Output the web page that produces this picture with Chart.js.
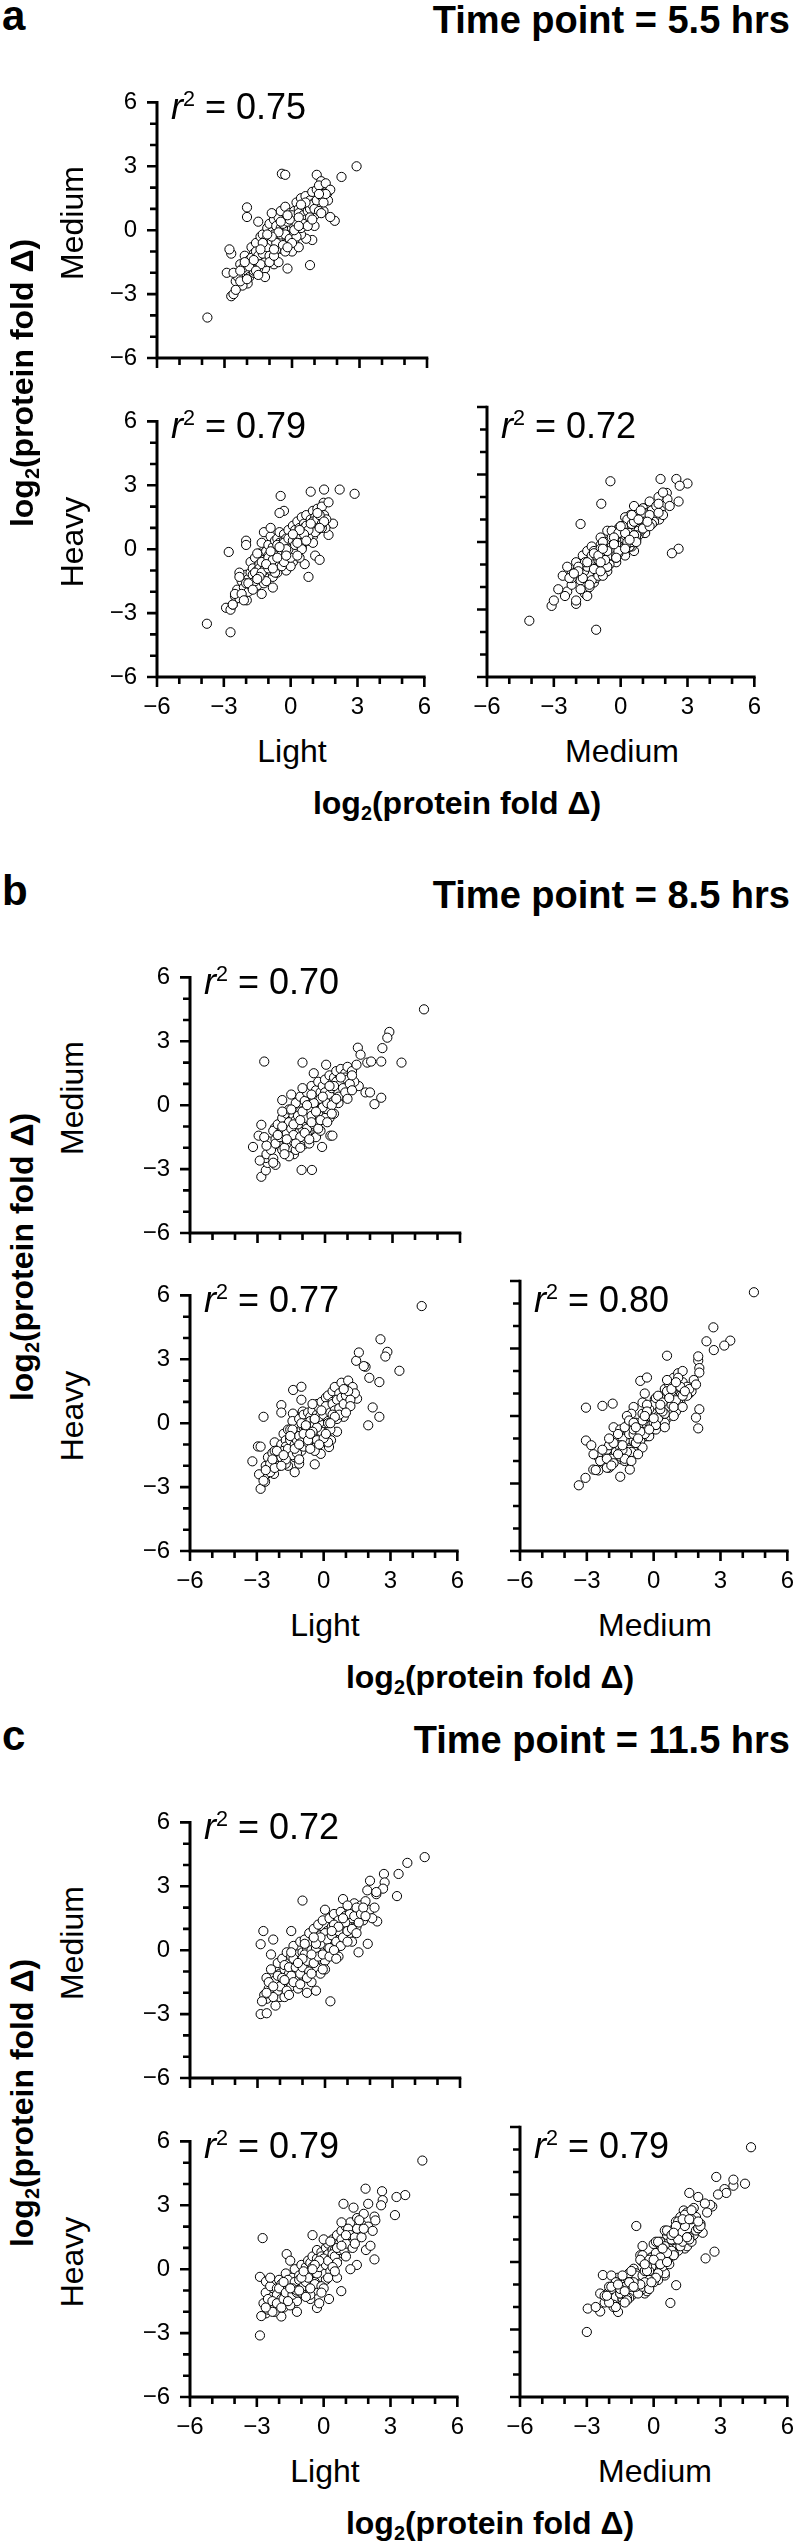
<!DOCTYPE html>
<html>
<head>
<meta charset="utf-8">
<script src="https://cdn.jsdelivr.net/npm/chart.js@4.4.1/dist/chart.umd.min.js"></script>
<style>
  body { margin: 0; background: #fff; }
  #fig { position: relative; width: 800px; height: 2545px; overflow: hidden; font-family: "Liberation Sans", Arial, sans-serif; color: #000; }
  .lbl { position: absolute; white-space: nowrap; }
  .lbl sup { font-size: 0.6em; line-height: 0; vertical-align: 0.62em; }
  .lbl sub { font-size: 0.62em; line-height: 0; vertical-align: -0.32em; }
  canvas { position: absolute; left: 0; top: 0; }
</style>
</head>
<body>
<div id="fig"></div>
<script>
// log2 fold change per protein, one entry per protein (same order in each array)
// --- 5.5 hrs ---
const light55 = [-3.76,-2.7,2.87,2.2,-0.45,-0.3,1.1,1.3,1.48,1.5,0.9,1.9,1.7,0.8,-2.9,-2.7,-2.6,-2.5,-1.97,-1.3,-0.8,-2.78,-2.0,-2.0,-0.2,0.63,-1.2,-0.5,1.56,
  -2.4,-2.3,-2.2,-2.1,-2.0,-1.9,-1.9,-1.8,-1.8,-1.7, -1.7,-1.6,-1.6,-1.5,-1.5,-1.4,-1.4,-1.3,-1.3,-1.2,
  -1.2,-1.1,-1.1,-1.0,-1.0,-1.0,-0.9,-0.9,-0.8,-0.8, -0.8,-0.7,-0.7,-0.6,-0.6,-0.6,-0.5,-0.5,-0.5,-0.4,
  -0.4,-0.4,-0.3,-0.3,-0.3,-0.2,-0.2,-0.2,-0.1,-0.1, -0.1,0.0,0.0,0.0,0.1,0.1,0.1,0.2,0.2,0.2,
  0.3,0.3,0.3,0.4,0.4,0.4,0.5,0.5,0.5,0.6, 0.6,0.6,0.7,0.7,0.8,0.8,0.9,0.9,1.0,1.0,
  1.1,1.1,1.2,1.2,1.3,1.4,1.4,1.5,1.6,1.7, -2.6,-2.5,-2.3,-1.2,0.0,-0.6,0.3,1.0,-1.5,-0.9,
  -2.2,-2.0,-1.8,-1.7,-1.6,-1.5,-1.4,-1.3,-1.2,-1.1, -1.0,-0.9,-0.8,-0.7,-0.6,-0.5,-0.4,-0.3,-0.2,-0.1,
  0.0,0.1,0.2,0.3,0.4,0.5,0.6,0.7,0.8,0.9, 1.0,1.1,1.2,1.3,1.4,1.5,-1.9,-1.6,-1.3,-1.0,
  -0.7,-0.4,-0.1,0.2,0.5,0.8,-0.8,-0.3,0.3,0.6, -2.3,-1.4,-0.6,0.4,1.2,-1.7,-0.9,0.0,0.7,-0.2,
  -1.1,-0.5,0.1,0.9,-1.5,-2.1,0.3,1.3,-0.8,-0.2];
const medium55 = [-4.1,-1.1,3.0,2.5,2.65,2.6,2.6,2.3,2.07,1.79,-0.46,0.44,0.62,-1.64,-2.0,-3.1,-3.0,-2.4,-2.5,-1.5,-1.6,-0.9,1.07,0.62,-1.8,-0.4,-1.8,-0.87,1.73,
  -2.2,-1.6,-2.6,-1.2,-1.9,-1.4,-2.2,-0.8,-1.7,-1.1, -2.0,-0.6,-1.5,-1.0,-1.8,-0.3,-1.3,-0.9,-0.2,-1.5,
  -0.5,0.1,-1.1,-0.4,-0.8,0.3,-1.3,-0.1,-0.6,0.5, -1.0,-0.3,0.2,-0.7,0.6,-0.2,0.1,-0.5,0.9,-0.1,
  0.4,-0.9,0.2,-0.4,1.1,0.0,0.6,-0.6,0.3,-0.2, 0.8,0.1,0.5,-0.3,0.9,0.2,-0.5,0.6,1.3,-0.1,
  0.4,1.0,0.0,0.7,1.5,-0.2,0.5,1.1,0.2,0.9, 1.6,0.3,1.2,0.6,1.4,0.4,1.8,0.9,1.3,0.7,
  1.9,1.0,1.5,2.1,1.2,1.7,0.9,2.2,1.4,1.9, -2.0,-2.8,-2.4,-2.2,-1.0,-1.5,-0.8,0.2,0.4,0.8,
  -1.8,-2.3,-1.3,-1.9,-1.0,-1.2,-1.6,-1.1,-0.7,-0.8, -1.2,-0.5,-0.2,-0.9,-0.4,-0.2,0.3,-0.2,0.4,-0.4,
  0.7,-0.1,0.3,0.8,0.1,0.7,0.5,0.9,1.0,1.2, 1.0,1.4,0.9,1.6,1.3,1.7,-1.7,-1.9,-0.6,-1.5,
  -0.6,-0.7,0.5,-0.3,0.3,0.6,-1.2,-1.0,0.6,1.3, -1.9,-0.9,-0.1,1.2,1.7,-1.4,-0.3,-0.6,0.2,0.7,
  -0.2,0.4,0.0,0.5,-2.1,-1.5,0.2,0.8,-0.9,-0.8];
const heavy55 = [-3.5,-3.9,2.6,2.8,2.5,1.8,-0.3,-0.5,2.18,2.8,2.7,1.2,0.67,-1.3,-2.75,-2.84,-2.6,-2.2,-2.4,-2.1,-1.8,-0.13,0.4,0.2,-1.0,-0.7,0.8,1.7,1.0,
  -1.9,-2.3,-1.5,-1.8,-1.2,-2.0,-1.4,-1.1,-0.6,-1.6, -0.9,-1.3,-0.4,-1.0,-1.7,-0.7,-0.2,-1.4,0.3,-0.9,
  -0.5,-0.1,-1.2,0.2,-0.8,-0.3,-0.6,0.6,-0.2,0.1, -1.3,0.4,-0.6,0.0,0.5,-0.9,0.3,-0.3,0.8,-0.5,
  0.0,0.2,0.7,-0.2,0.4,0.1,-0.4,0.5,0.9,-0.1, 0.3,0.4,-0.2,0.0,0.6,1.1,-0.6,0.2,0.9,0.5,
  -0.1,1.3,0.7,0.3,1.0,-0.4,0.8,1.5,0.1,0.5, 1.2,1.0,0.7,1.6,1.1,0.4,1.4,0.8,1.8,0.6,
  1.2,1.5,0.9,1.9,1.3,2.0,1.0,1.6,1.4,2.2, -2.6,-2.1,-1.1,-1.6,-0.8,-1.1,0.0,0.3,-0.2,1.0,
  -2.1,-1.6,-1.7,-1.2,-1.5,-1.2,-0.9,-0.6,-1.0,-1.5, -0.4,-1.0,-0.6,-0.3,0.2,-0.7,-0.2,0.3,-0.2,0.5,
  0.1,0.4,-0.1,0.5,0.7,0.3,0.8,1.1,0.6,1.0, 1.3,0.8,1.4,1.6,1.2,1.3,-1.6,-1.1,-1.1,-0.9,
  -1.1,-0.8,0.0,0.2,0.0,0.9,-0.5,-0.6,0.3,0.7, -1.3,-1.3,-0.4,0.9,1.7,-1.9,-0.1,-0.4,0.4,0.0,
  -0.7,0.1,0.7,1.2,-1.4,-2.4,-0.3,1.0,-0.9,-0.3];
const r2_55 = [0.75, 0.79, 0.72];   // M vs L, H vs L, H vs M

// --- 8.5 hrs ---
const light85 = [4.4,-2.7,3.4,2.86,2.77,2.55,1.46,1.58,1.88,2.05,2.5,-1.0,0.05,1.5,1.8,2.2,2.5,2.0,-1.9,-1.37,-1.0,-3.2,-2.95,-1.04,-0.58,-1.38,-0.94,-2.83,-2.63,-2.55,-2.63,-2.23,-0.4,0.24,-0.13,0.33,-2.83,
  -2.6,-2.5,-2.4,-2.3,-2.3,-2.2,-2.1,-2.0,-2.0,-1.9, -1.9,-1.8,-1.8,-1.7,-1.7,-1.6,-1.6,-1.5,-1.5,-1.4,
  -1.4,-1.3,-1.3,-1.2,-1.2,-1.1,-1.1,-1.0,-1.0,-0.9, -0.9,-0.8,-0.8,-0.8,-0.7,-0.7,-0.6,-0.6,-0.6,-0.5,
  -0.5,-0.4,-0.4,-0.3,-0.3,-0.3,-0.2,-0.2,-0.1,-0.1, 0.0,0.0,0.1,0.1,0.2,0.2,0.3,0.3,0.4,0.4,
  0.5,0.5,0.6,0.7,0.7,0.8,0.9,1.0,1.0,1.1, 1.2,1.3,1.4,-2.9,-2.7,-1.6,-1.1,-0.4,0.2,0.6,
  -1.0,-1.9,-0.2,0.9,-1.5,-0.7,-2.2,0.4,-1.3,-0.5,
  -2.4,-2.2,-2.0,-1.9,-1.8,-1.7,-1.6,-1.5,-1.4,-1.3, -1.2,-1.1,-1.0,-0.9,-0.8,-0.7,-0.6,-0.5,-0.4,-0.3,
  -0.2,-0.1,0.0,0.1,0.2,0.3,0.4,0.5,0.6,0.7, 0.8,0.9,1.0,1.1,1.2,-2.1,-1.7,-1.2,-0.9,-0.6,
  -0.3,0.0,0.3,0.6,-1.4,-1.0,-0.5,-0.1,0.4,0.9, -2.6,-1.8,-1.1,-0.7,-0.2,0.2,0.7,1.2,-1.5,-0.8,
  -2.3,-1.3,-0.4,0.1,0.5,1.0,-1.9,-0.6,0.3,-1.1];
const medium85 = [4.5,2.05,2.0,3.44,3.17,2.68,2.7,2.37,2.0,2.05,2.05,2.0,1.9,0.9,0.6,0.05,0.35,0.6,0.24,-0.6,-0.3,-1.96,-1.43,-3.04,-3.04,-2.3,-1.84,-3.36,-3.06,-2.71,-2.48,-1.07,-1.44,-1.43,-1.96,-1.43,-0.92,
  -2.3,-1.7,-2.0,-1.2,-2.5,-1.6,-0.9,-1.9,-1.3,-0.6, -2.1,-1.0,-1.5,-0.4,-1.8,-1.1,-0.2,-1.4,-0.7,-1.7,
  -0.5,-1.0,0.1,-0.8,-1.3,-0.3,0.4,-1.1,-0.6,0.2, -0.9,-0.4,0.6,-1.4,0.0,-0.7,0.9,-0.2,-1.0,0.3,
  -0.5,0.7,-0.1,0.4,-0.8,1.1,0.1,0.6,-0.3,0.9, 0.2,1.2,0.5,-0.2,0.8,1.4,0.3,1.0,1.3,0.6,
  1.6,0.9,1.2,0.7,1.7,1.1,1.5,0.9,1.8,1.3, 1.6,1.1,1.9,-2.6,-1.5,-2.4,-1.9,-1.5,-0.6,0.1,
  0.8,-0.3,-1.2,0.4,0.5,-1.8,-2.8,-0.4,-2.1,1.5,
  -2.1,-1.8,-1.5,-1.2,-2.0,-1.3,-0.8,-1.1,-1.4,-0.7, -0.9,-1.5,-0.4,-0.6,-1.1,-0.2,-0.5,-0.9,0.2,-0.4,
  0.3,-0.1,0.6,0.1,0.5,0.8,0.2,1.1,0.6,1.0, 0.8,1.3,1.2,1.0,1.4,-1.4,-1.6,-0.5,-1.3,-0.8,
  -1.1,-0.6,0.0,0.4,-0.9,-0.3,0.1,0.4,0.9,0.6, -1.9,-2.3,-0.7,-1.6,-0.7,0.9,1.3,0.7,-0.2,0.0,
  -2.7,-1.8,-0.3,-0.8,0.3,0.3,-1.0,0.5,-0.4,-2.0];
const heavy85 = [5.5,0.3,2.46,3.35,3.13,3.94,2.93,3.32,2.65,2.13,1.93,-0.55,-0.07,1.15,2.68,0.74,0.3,-0.1,0.85,1.56,1.71,-1.79,-1.09,0.37,-1.09,0.45,0.55,-3.08,-2.75,-2.38,-2.42,-2.38,-1.93,-1.12,-1.44,-0.8,-1.1,
  -2.0,-1.6,-2.3,-1.4,-1.8,-0.9,-1.7,-1.2,-2.0,-1.0, -1.5,-0.5,-1.8,-0.8,-1.1,-1.5,-0.3,-0.7,-1.2,-1.0,
  0.1,-1.6,-0.4,-0.6,-1.1,-0.9,0.2,-0.3,-1.3,-0.2, 0.4,-0.7,0.0,-1.0,0.5,-0.4,0.3,-0.8,0.1,-0.1,
  0.6,0.2,-0.5,0.9,-0.3,0.4,-0.6,0.7,0.2,1.0, 0.0,0.6,1.2,0.3,0.5,1.3,0.8,0.2,1.5,0.6,
  1.0,1.7,0.9,1.4,1.1,1.9,1.3,0.8,1.6,2.0, 1.2,1.7,1.4,-2.4,-2.7,-2.0,-1.9,-1.3,-0.9,-0.4,
  1.1,0.5,0.0,0.3,-0.3,-0.5,-1.3,1.0,-2.3,0.9,
  -1.9,-2.1,-1.4,-1.6,-1.3,-1.9,-1.2,-0.8,-1.5,-1.0, -0.8,-0.6,-0.9,-1.1,-0.3,-0.9,-0.2,-0.6,-0.1,-0.8,
  0.3,-0.4,0.4,0.8,0.1,0.5,0.9,0.6,1.1,0.7, 1.2,0.9,1.3,1.5,1.1,-1.3,-1.7,-1.4,-0.5,-1.2,
  -0.2,-0.7,-0.3,0.2,-0.3,0.0,-0.4,0.6,0.4,1.6, -2.2,-1.5,-1.7,-0.8,-1.0,0.0,0.4,0.8,-0.6,-0.1,
  -1.7,-1.2,0.2,-0.5,0.3,0.5,-2.0,-0.5,0.0,-1.0];
const r2_85 = [0.70, 0.77, 0.80];

// --- 11.5 hrs ---
const light115 = [4.43,3.66,3.27,2.62,2.65,2.0,1.88,2.28,2.58,3.2,2.32,-1.0,2.28,-2.74,-2.86,-2.3,-2.86,-2.59,-2.59,-2.0,-1.9,0.24,1.49,1.9,-0.5,0.89,1.34,0.79,-0.3,-1.66,
  -2.7,-2.6,-2.5,-2.4,-2.3,-2.2,-2.1,-2.1,-2.0,-1.9, -1.9,-1.8,-1.7,-1.7,-1.6,-1.6,-1.5,-1.5,-1.4,-1.4,
  -1.3,-1.3,-1.2,-1.2,-1.1,-1.1,-1.0,-1.0,-0.9,-0.9, -0.8,-0.8,-0.7,-0.7,-0.6,-0.6,-0.5,-0.5,-0.4,-0.4,
  -0.3,-0.3,-0.2,-0.2,-0.1,-0.1,0.0,0.0,0.1,0.1, 0.2,0.2,0.3,0.3,0.4,0.4,0.5,0.5,0.6,0.7,
  0.7,0.8,0.9,0.9,1.0,1.1,1.1,1.2,1.3,1.4, 1.5,1.6,1.7,1.8,2.0,-2.8,-2.2,-1.8,-1.2,-0.6,
  -0.2,0.6,1.2,-1.5,-0.8,0.0,2.1,-2.4,0.8,-0.4,
  -2.5,-2.3,-2.1,-2.0,-1.8,-1.7,-1.6,-1.5,-1.4,-1.3, -1.2,-1.1,-1.0,-0.9,-0.8,-0.7,-0.6,-0.5,-0.4,-0.3,
  -0.2,-0.1,0.0,0.1,0.2,0.3,0.4,0.5,0.6,0.7, 0.8,0.9,1.0,1.1,1.2,1.3,1.4,1.5,1.6,1.7,
  -2.3,-1.9,-1.4,-1.0,-0.6,-0.2,0.2,0.6,1.0,1.4, -1.8,-1.2,-0.8,-0.4,0.0,0.4,0.8,-2.6,-1.6,-0.6,
  0.3,1.0,-1.1,-0.1,-0.9,1.8,-1.5,-0.5,0.5,2.2];
const medium115 = [4.37,4.1,3.58,3.58,3.18,3.26,2.81,2.63,2.89,2.54,1.35,2.33,2.73,0.9,0.28,0.5,-3.0,-2.96,-2.28,-2.2,-1.6,-2.4,-0.1,0.3,-0.78,1.6,2.0,1.01,0.75,-0.5,
  -2.1,-1.3,-1.8,-0.9,-2.0,-1.4,-0.6,-1.9,-1.1,-0.4, -1.6,-0.9,-1.4,-0.1,-1.1,-0.6,-1.7,-0.3,-0.9,0.2,
  -1.3,-0.5,-0.2,-1.0,0.4,-0.7,-0.1,-1.2,0.5,-0.5, 0.1,-0.9,0.8,-0.3,0.3,-0.6,1.0,-0.1,0.5,-0.8,
  0.2,1.2,-0.4,0.7,0.0,1.4,0.4,-0.5,0.9,0.2, 1.5,0.6,-0.2,1.1,0.5,1.7,0.9,0.1,1.4,0.7,
  1.8,1.0,0.5,1.6,1.2,2.0,0.8,1.5,2.2,1.1, 1.8,2.1,1.4,2.3,1.9,-2.4,-2.6,-2.2,-1.8,-1.5,
  -1.1,-0.3,0.4,0.9,-2.0,1.9,1.5,-0.2,2.4,-1.9,
  -1.5,-2.2,-1.2,-1.7,-0.7,-1.9,-0.8,-1.2,-1.5,-0.8, -0.5,-1.1,-0.8,-0.2,-0.5,-1.0,0.0,-0.6,0.1,-0.3,
  0.3,-0.2,0.8,0.5,0.1,0.7,1.2,0.4,0.9,0.2, 0.6,1.3,0.9,1.7,1.0,1.6,2.0,1.3,1.7,2.0,
  -1.7,-1.3,-0.4,-0.4,-0.2,0.6,-0.3,1.1,0.4,0.8, -1.4,-0.6,-1.3,0.3,-0.9,0.0,1.5,-2.0,-2.1,-1.1,
  0.9,2.1,-1.6,-0.9,0.3,1.6,-0.1,0.6,-0.4,2.0];
const heavy115 = [5.1,3.48,3.39,3.66,3.24,3.07,3.78,2.47,3.0,2.54,2.29,0.16,0.46,1.46,-0.36,-0.6,-3.11,-2.07,-0.58,-1.52,-2.22,-1.4,0.2,0.9,1.6,3.07,2.89,-1.03,-1.82,0.71,
  -1.6,-1.1,-1.9,-0.8,-1.3,-1.7,-0.9,-1.2,-0.5,-1.4, -0.7,-1.0,-1.6,-0.2,-1.2,-0.6,-0.9,-1.3,-0.4,-0.8,
  -1.1,0.0,-0.6,-1.5,-0.3,-0.9,0.2,-0.7,-0.5,-1.2, 0.1,-0.3,0.4,-0.8,-0.1,0.3,0.6,-0.6,0.0,-1.0,
  0.5,0.9,-0.4,0.2,0.8,0.6,-0.2,0.3,1.0,-0.5, 0.7,1.2,0.1,0.5,1.4,0.9,0.3,0.9,1.6,0.6,
  1.2,1.8,0.7,1.1,2.0,1.5,1.0,2.2,1.3,1.8, 2.4,1.7,2.1,2.6,2.0,-2.2,-2.0,-1.8,-2.0,-1.4,
  -1.6,-0.4,0.0,0.4,-1.1,1.4,1.1,-0.4,2.2,-0.6,
  -1.4,-1.5,-1.6,-0.9,-1.4,-1.1,-0.5,-1.7,-1.2,-0.6, -1.1,-0.5,-1.1,-0.8,-0.6,-0.4,-0.9,0.1,-0.7,-0.2,
  0.1,-0.8,0.5,0.2,0.4,-0.1,0.7,0.6,0.3,0.9, 1.4,0.9,1.2,1.9,1.6,1.0,1.5,1.9,2.3,1.5,
  -2.0,-1.8,-0.9,-0.4,-1.2,0.4,-0.4,1.0,0.6,1.2, -0.6,-1.0,-1.3,0.2,-0.9,0.1,1.1,-1.8,-1.5,-0.9,
  1.3,1.6,-1.0,-1.1,-0.1,1.9,-0.9,0.0,-0.1,1.8];
const r2_115 = [0.72, 0.79, 0.79];

const timeTitles = ['Time point = 5.5 hrs', 'Time point = 8.5 hrs', 'Time point = 11.5 hrs'];
const panelLetters = ['a', 'b', 'c'];
const axisMin = -6, axisMax = 6;

// ---- layout (pixels) ----
const panels = [
  { L: light55,  M: medium55,  H: heavy55,  r2: r2_55,  top: 88,   lowTop: 407,  left: 157, right: 487, titleBase: 33 },
  { L: light85,  M: medium85,  H: heavy85,  r2: r2_85,  top: 963,  lowTop: 1281, left: 190, right: 520, titleBase: 908 },
  { L: light115, M: medium115, H: heavy115, r2: r2_115, top: 1808, lowTop: 2127, left: 190, right: 520, titleBase: 1753 },
];
const SIZE = 270;
const fig = document.getElementById('fig');

function label(html, x, baseline, size, opts) {
  opts = opts || {};
  const d = document.createElement('div');
  d.className = 'lbl';
  d.innerHTML = html;
  d.style.fontSize = size + 'px';
  d.style.lineHeight = size + 'px';
  d.style.fontWeight = opts.bold ? 'bold' : 'normal';
  d.style.left = x + 'px';
  d.style.top = (baseline - 0.8465 * size) + 'px';
  if (opts.align === 'center') d.style.transform = 'translateX(-50%)';
  if (opts.align === 'right') d.style.transform = 'translateX(-100%)';
  fig.appendChild(d);
}

// rotated (reads bottom to top), centred on cx, cy
function vlabel(html, cx, cy, size, bold) {
  const d = document.createElement('div');
  d.className = 'lbl';
  d.innerHTML = html;
  d.style.fontSize = size + 'px';
  d.style.lineHeight = size + 'px';
  d.style.fontWeight = bold ? 'bold' : 'normal';
  d.style.left = cx + 'px';
  d.style.top = cy + 'px';
  d.style.transform = 'translate(-50%,-50%) rotate(-90deg)';
  fig.appendChild(d);
}

const tickText = v => (v < 0 ? '\u2212' + Math.abs(v) : String(v));

// axis lines with long ticks every 3 and short ticks every 1
const axisLines = {
  id: 'axisLines',
  afterDraw(chart) {
    const { ctx } = chart;
    const xs = chart.scales.x, ys = chart.scales.y;
    const left = xs.getPixelForValue(axisMin), right = xs.getPixelForValue(axisMax);
    const bottom = ys.getPixelForValue(axisMin), top = ys.getPixelForValue(axisMax);
    ctx.save();
    ctx.strokeStyle = '#000';
    ctx.lineWidth = 2.6;
    ctx.beginPath();
    for (let v = axisMin; v <= axisMax; v++) {
      const len = v % 3 === 0 ? 10 : 7;
      const px = xs.getPixelForValue(v), py = ys.getPixelForValue(v);
      ctx.moveTo(px, bottom); ctx.lineTo(px, bottom + len);
      ctx.moveTo(left, py); ctx.lineTo(left - len, py);
    }
    ctx.stroke();
    ctx.lineWidth = 3;
    ctx.beginPath();
    ctx.moveTo(left, top - 1.3);
    ctx.lineTo(left, bottom);
    ctx.lineTo(right + 1.3, bottom);
    ctx.stroke();
    ctx.restore();
  }
};

function scatterPlot(x0, y0, xs, ys, showX, showY) {
  const w = SIZE + 90, h = SIZE + 70;
  const box = document.createElement('div');
  box.style.cssText = 'position:absolute;left:' + (x0 - 70) + 'px;top:' + (y0 - 20) + 'px;width:' + w + 'px;height:' + h + 'px';
  const cv = document.createElement('canvas');
  cv.width = w; cv.height = h;
  box.appendChild(cv);
  fig.appendChild(box);

  const tickFont = { family: 'Liberation Sans', size: 24 };
  new Chart(cv, {
    type: 'scatter',
    data: {
      datasets: [{
        data: xs.map((x, i) => ({ x: x, y: ys[i] })),
        pointRadius: 4.6,
        pointBorderWidth: 1,
        pointBorderColor: '#000',
        pointBackgroundColor: '#fff',
        clip: false
      }]
    },
    options: {
      responsive: false,
      animation: false,
      layout: { padding: { top: 20, right: 20, left: 0, bottom: 0 } },
      plugins: { legend: { display: false }, tooltip: { enabled: false } },
      scales: {
        x: {
          type: 'linear', min: axisMin, max: axisMax,
          grid: { display: false, drawTicks: false },
          border: { display: false },
          ticks: { display: showX, stepSize: 3, padding: 16, color: '#000', font: tickFont, maxRotation: 0, callback: tickText },
          afterFit: s => { s.height = 50; }
        },
        y: {
          type: 'linear', min: axisMin, max: axisMax,
          grid: { display: false, drawTicks: false },
          border: { display: false },
          ticks: { display: showY, stepSize: 3, padding: 20, color: '#000', font: tickFont, callback: tickText },
          afterFit: s => { s.width = 70; }
        }
      }
    },
    plugins: [axisLines]
  });
}

const logLabel = 'log<sub>2</sub>(protein fold \u0394)';

panels.forEach((p, k) => {
  // panel letter and title
  label(panelLetters[k], 2, p.titleBase - 2, 42, { bold: true });
  label(timeTitles[k], 790, p.titleBase, 38, { bold: true, align: 'right' });

  // Medium vs Light, Heavy vs Light, Heavy vs Medium
  scatterPlot(p.left, p.top, p.L, p.M, false, true);
  scatterPlot(p.left, p.lowTop, p.L, p.H, true, true);
  scatterPlot(p.right, p.lowTop, p.M, p.H, true, false);

  const r2html = v => '<i>r</i><sup>2</sup> = ' + v.toFixed(2);
  label(r2html(p.r2[0]), p.left + 14, p.top + 31, 36);
  label(r2html(p.r2[1]), p.left + 14, p.lowTop + 31, 36);
  label(r2html(p.r2[2]), p.right + 14, p.lowTop + 31, 36);

  // axis names
  vlabel('Medium', 72, p.top + SIZE / 2, 32);
  vlabel('Heavy', 72, p.lowTop + SIZE / 2, 32);
  vlabel(logLabel, 22, (p.top + p.lowTop + SIZE) / 2, 32, true);

  const bottom = p.lowTop + SIZE;
  label('Light', p.left + SIZE / 2, bottom + 85, 32, { align: 'center' });
  label('Medium', p.right + SIZE / 2, bottom + 85, 32, { align: 'center' });
  label(logLabel, (p.left + p.right + SIZE) / 2, bottom + 137, 32, { bold: true, align: 'center' });
});
</script>
</body>
</html>
